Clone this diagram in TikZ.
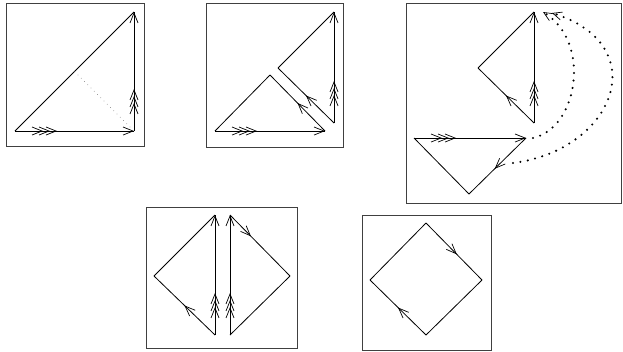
\documentclass[tikz,border=0pt]{standalone}
\usepackage{amsmath,amssymb,tikz}
\usetikzlibrary{arrows.meta,decorations.markings,calc}

\tikzset{
  >={Straight Barb[length=10pt,width=8pt,line width=0.7pt]},
  frame/.style={draw=black!75,line width=0.8pt},
  side/.style={line width=0.8pt},
  tripleedge/.style={side,postaction={decorate},decoration={markings,
    mark=at position 28pt with {\arrow{>}},
    mark=at position 35pt with {\arrow{>}},
    mark=at position 42pt with {\arrow{>}},
    mark=at position 1 with {\arrow{>}}}},
  midedge/.style={side,postaction={decorate},decoration={markings,
    mark=at position #1 with {\arrow{>}}}},
  glue/.style={line width=2.3pt,line cap=round,dash pattern=on 0pt off 7.5pt,
    -{Straight Barb[length=9pt,width=8pt,line width=0.7pt]}}
}

\begin{document}
\begin{tikzpicture}[x=1pt,y=-1pt]
  \useasboundingbox (0,0) rectangle (623,351);

  % Draw the frames
  \draw[frame] (6.5,3.5) rectangle (144,146);
  \draw[frame] (206,3.5) rectangle (343,147);
  \draw[frame] (406,3.5) rectangle (621.5,203);
  \draw[frame] (146.5,207) rectangle (297,348);
  \draw[frame] (362,215) rectangle (491,350);

  % Panel 1: the whole triangle
  \coordinate (a1) at (15,131);
  \coordinate (b1) at (134,131);
  \coordinate (c1) at (134,12);
  \coordinate (m1) at ($(a1)!0.5!(c1)$);
  \draw[side] (a1) -- (c1);
  \draw[tripleedge] (a1) -- (b1);
  \draw[tripleedge] (b1) -- (c1);
  \draw[black!60,line width=0.6pt,dash pattern=on 0.6pt off 4pt,shorten >=4pt] (m1) -- (b1);

  % Panel 2: cut along the dotted line
  \coordinate (a2) at (215,131);
  \coordinate (b2) at (325,131);
  \coordinate (p2) at (270,75);
  \coordinate (t2) at (334,12);
  \coordinate (l2) at (278,68);
  \coordinate (d2) at (334,123);
  \draw[tripleedge] (a2) -- (b2);
  \draw[midedge=0.5] (b2) -- (p2);
  \draw[side] (p2) -- (a2);
  \draw[tripleedge] (d2) -- (t2);
  \draw[midedge=0.5] (d2) -- (l2);
  \draw[side] (l2) -- (t2);

  % Panel 3: the pieces moved apart
  \coordinate (a3) at (414,138);
  \coordinate (b3) at (526,138);
  \coordinate (e3) at (469,194);
  \coordinate (t3) at (534,12);
  \coordinate (l3) at (478,68);
  \coordinate (d3) at (534,123);
  \draw[tripleedge] (a3) -- (b3);
  \draw[midedge=0.55] (b3) -- (e3);
  \draw[side] (e3) -- (a3);
  \draw[tripleedge] (d3) -- (t3);
  \draw[midedge=0.5] (d3) -- (l3);
  \draw[side] (l3) -- (t3);

  % Draw the dotted gluing curves
  \coordinate (g1) at (533,138);
  \coordinate (h1) at (543,12);
  \coordinate (g2) at (513,163);
  \coordinate (h2) at (552,13);
  \draw[glue] (g1) .. controls (578,128) and (592,42) .. (h1);
  \draw[glue] (g2) .. controls (615,150) and (655,45) .. (h2);

  % Panel 4: the two halves side by side
  \coordinate (t4) at (215,215);
  \coordinate (l4) at (154,276);
  \coordinate (d4) at (215,335);
  \coordinate (u4) at (230,215);
  \coordinate (r4) at (290,276);
  \coordinate (e4) at (230,335);
  \draw[tripleedge] (d4) -- (t4);
  \draw[midedge=0.5] (d4) -- (l4);
  \draw[side] (l4) -- (t4);
  \draw[tripleedge] (e4) -- (u4);
  \draw[midedge=0.35] (u4) -- (r4);
  \draw[side] (r4) -- (e4);

  % Panel 5: the square
  \coordinate (t5) at (426,223);
  \coordinate (r5) at (482,280);
  \coordinate (d5) at (426,335);
  \coordinate (l5) at (370,280);
  \draw[midedge=0.55] (t5) -- (r5);
  \draw[side] (r5) -- (d5);
  \draw[midedge=0.5] (d5) -- (l5);
  \draw[side] (l5) -- (t5);
\end{tikzpicture}
\end{document}
